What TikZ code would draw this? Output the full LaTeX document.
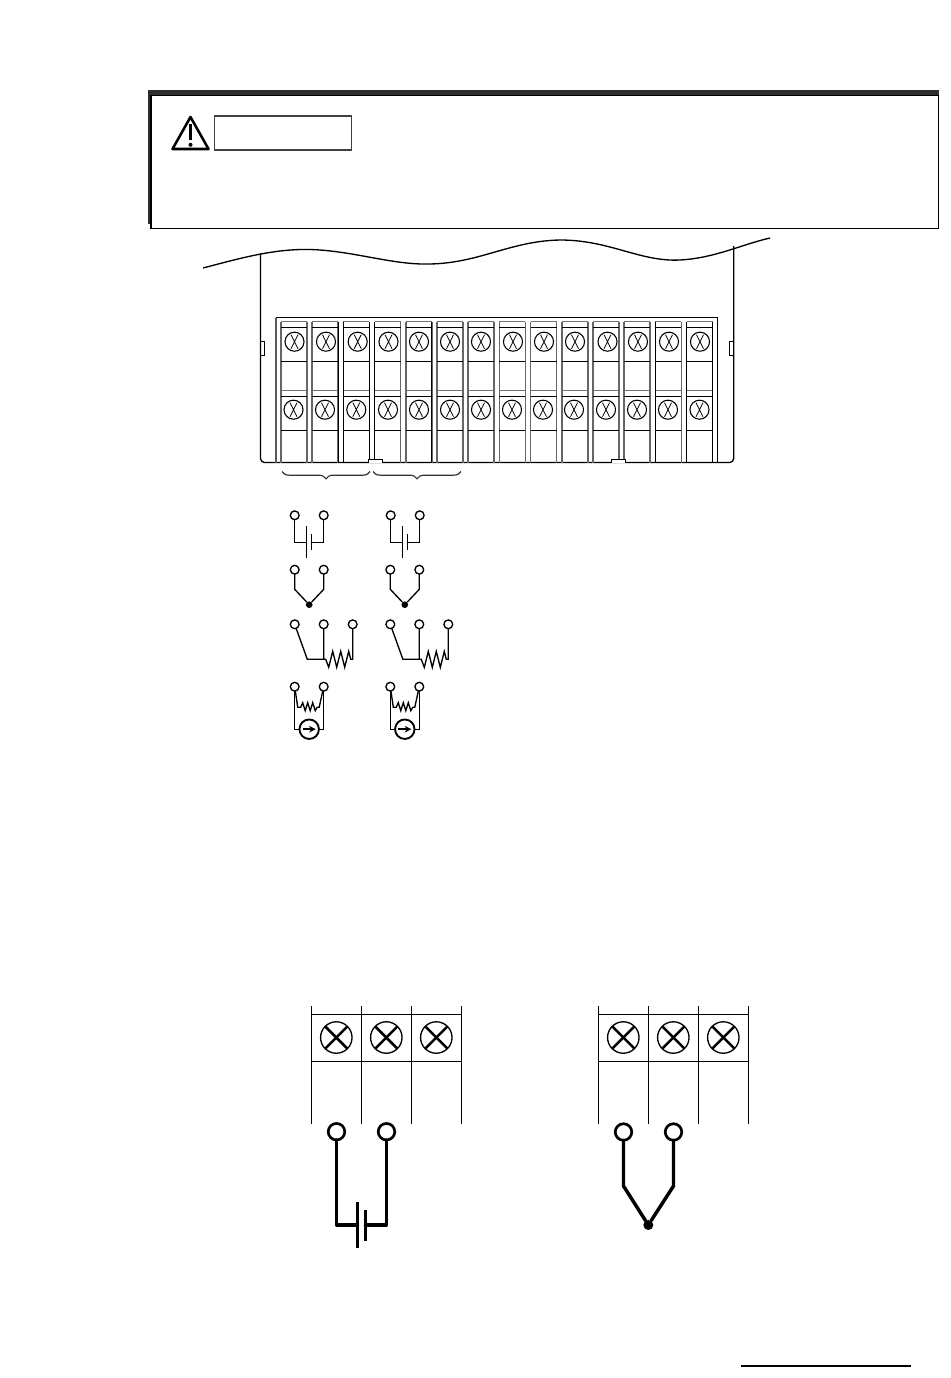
\documentclass[tikz,border=0pt]{standalone}
\usetikzlibrary{arrows.meta,decorations.pathreplacing}
\tikzset{
  x=0.75pt,y=-0.75pt,
  thin line/.style={line width=0.75pt,black},
  mid line/.style={line width=1pt,black},
  heavy line/.style={line width=2.6pt,black,line cap=round,line join=round},
  term/.style={circle,draw=black,fill=white,line width=1pt,minimum size=6.6pt,inner sep=0pt,outer sep=0pt},
  bigterm/.style={circle,draw=black,fill=white,line width=2pt,minimum size=12.4pt,inner sep=0pt,outer sep=0pt},
  screw/.style={circle,draw=black,line width=0.8pt,minimum size=14.3pt,inner sep=0pt,outer sep=0pt},
  bigscrew/.style={circle,draw=black,line width=1pt,minimum size=23.6pt,inner sep=0pt,outer sep=0pt},
  jdot/.style={circle,fill=black,minimum size=5pt,inner sep=0pt},
  bigdot/.style={circle,fill=black,minimum size=7.5pt,inner sep=0pt},
  pics/batt/.style={code={
    \node[term] (a) at (0,0) {}; \node[term] (b) at (29,0) {};
    \coordinate (p) at (11.8,27); \coordinate (q) at (16.8,27);
    \draw[mid line] (a) |- (p); \draw[mid line] (b) |- (q);
    \draw[mid line] (11.8,11) -- (11.8,43); \draw[mid line] (16.8,19) -- (16.8,35);
  }},
  pics/tc/.style={code={
    \node[term] (a) at (0,0) {}; \node[term] (b) at (29,0) {};
    \node[jdot] (j) at (14.5,35) {};
    \draw[mid line] (a) -- (0,19.6) -- (j); \draw[mid line] (b) -- (29,19.6) -- (j);
  }},
  pics/rtd/.style={code={
    \node[term] (a) at (0,0) {}; \node[term] (b) at (29,0) {}; \node[term] (c) at (58,0) {};
    \draw[mid line] (a) -- (12.6,35) -- (29,35);
    \draw[mid line] (b) -- (29,35) -- (31,35) -- (34,43) -- (38,27) -- (42,43) -- (46,27) -- (50,43) -- (54,27) -- (56,35) -- (58,35) -- (c);
  }},
  pics/mv/.style={code={
    \node[term] (a) at (0,0) {}; \node[term] (b) at (29,0) {};
    \node[circle,draw=black,line width=1.4pt,minimum size=14.6pt,inner sep=0pt,outer sep=0pt,fill=white] (g) at (14.5,42.5) {};
    \draw[mid line] (a) -- (0,42.5) -- (g); \draw[mid line] (b) -- (29,42.5) -- (g);
    \draw[mid line] (a) -- (3,20.5) -- (6,20.5) -- (8,16) -- (10.5,24) -- (13,16) -- (15.5,24) -- (18,16) -- (20.5,24) -- (22.5,20.5) -- (24.5,20.5) -- (b);
    \draw[line width=1.3pt,-{Stealth[length=5pt,width=5pt]}] (8,42.5) -- (21,42.5);
  }},
}
\newcommand{\tripleblock}[2]{%
  \foreach \k in {0,1,2,3}{\draw[mid line] ({#1+50*\k},1006) -- ({#1+50*\k},1124);}
  \draw[mid line] (#1,1014.3) -- ({#1+150},1014.3);
  \draw[mid line] (#1,1061.3) -- ({#1+150},1061.3);
  \foreach \k in {0,1,2}{
    \node[bigscrew] (#2\k) at ({#1+25+50*\k},1037.5) {};
    \draw[line width=1.9pt] (#2\k.north west) -- (#2\k.south east);
    \draw[line width=1.9pt] (#2\k.north east) -- (#2\k.south west);
  }%
}
\begin{document}
\begin{tikzpicture}
\useasboundingbox (0,0) rectangle (950,1378);
\fill[white] (0,0) rectangle (950,1378);

% warning box
\fill[black!82] (148,90) rectangle (938.5,96);
\fill[black!82] (148,90) rectangle (151.5,224);
\node[draw=black,line width=1pt,fill=white,minimum width=590.6pt,minimum height=99.6pt,inner sep=0pt,outer sep=0pt,anchor=north west] (warnbox) at (151,95.5) {};
\draw[line width=1.9pt,line join=round,black] (190.5,117) -- (208.5,149) -- (172.5,149) -- cycle;
\draw[line width=2.6pt] (190.5,124) -- (190.5,140);
\fill (190.5,144.8) circle[radius=2];
\node[draw=black!75,line width=0.85pt,minimum width=103pt,minimum height=25.5pt,inner sep=0pt,outer sep=0pt,anchor=north west] (signal) at (214.5,116) {};

% housing
\draw[mid line] (203,268) .. controls (245,257) and (280,247) .. (320,250) .. controls (360,253) and (395,265) .. (430,264) .. controls (480,263) and (510,241) .. (560,240) .. controls (610,240) and (640,262) .. (680,260) .. controls (715,258) and (740,245) .. (770,238);
\draw[mid line] (260.5,253) -- (260.5,458.5) to[out=-90,in=180] (264.5,462.5) -- (729.7,462.5) to[out=0,in=-90] (733.7,458.5) -- (733.7,246);
\draw[thin line] (260.5,341) rectangle (264.5,355);
\draw[thin line] (729.5,341) rectangle (733.7,355);
\draw[line width=1.1pt,black!65] (276,462.5) -- (276,317.5);
\draw[mid line] (276,317.5) -- (717.3,317.5) -- (717.3,462.5);

% terminal columns
\foreach \i in {0,...,13}{
  \pgfmathsetmacro{\xl}{281+31.2*\i}
  \pgfmathsetmacro{\xr}{\xl+26}
  \draw[line width=1.2pt,black!60] (\xl,321.7) -- (\xl,462.5);
  \draw[line width=1.2pt,black!60] (\xr,321.7) -- (\xr,462.5);
  \draw[line width=0.8pt,black!55] (\xl,321.7) -- (\xr,321.7);
  \draw[line width=0.8pt,black!55] (\xl,390.3) -- (\xr,390.3);
  \draw[mid line] (\xl,327.3) -- (\xr,327.3);
  \draw[mid line] (\xl,361.3) -- (\xr,361.3);
  \draw[mid line] (\xl,396.3) -- (\xr,396.3);
  \draw[mid line] (\xl,430.3) -- (\xr,430.3);
}
% darker column edges
\foreach \xx in {338.6,343.4,369.4,374.6,431.8,655.5,686.5,712.7}{
  \draw[mid line] (\xx,321.7) -- (\xx,462.5);
}
\foreach \i/\xx in {0/294.5,1/326,2/357.7,3/388.5,4/419,5/450,6/481,7/513,8/544,9/575,10/607.5,11/638,12/669,13/700}{
  \node[screw] (up\i) at (\xx,341.7) {};
  \draw[line width=0.6pt] (\xx-3.5,334.7) -- (\xx+3.5,348.7) (\xx+3.5,334.7) -- (\xx-3.5,348.7);
}
\foreach \i/\xx in {0/293.5,1/325,2/356.3,3/388,4/419,5/450,6/481,7/512,8/543,9/574,10/606,11/637,12/668,13/699.5}{
  \node[screw] (lo\i) at (\xx,409.7) {};
  \draw[line width=0.6pt] (\xx-3.5,402.7) -- (\xx+3.5,416.7) (\xx+3.5,402.7) -- (\xx-3.5,416.7);
}
\draw[thin line,fill=white] (368.5,462.5) |- (382.5,459) -- (382.5,462.5);
\draw[thin line,fill=white] (611,462.5) |- (625.5,459) -- (625.5,462.5);

% braces
\draw[line width=0.9pt,black!80,decorate,decoration={brace,mirror,amplitude=5.5pt}] (282,471.5) -- (370,471.5);
\draw[line width=0.9pt,black!80,decorate,decoration={brace,mirror,amplitude=5.5pt}] (373,471.5) -- (461,471.5);

% small wiring symbols
\pic at (294.7,515.3) {batt};
\pic at (390.7,515.3) {batt};
\pic at (294.7,569.7) {tc};
\pic at (390.3,569.7) {tc};
\pic at (294.7,624.3) {rtd};
\pic at (390.3,624.3) {rtd};
\pic at (294.7,686.7) {mv};
\pic at (390.3,686.7) {mv};

% enlarged blocks
\tripleblock{311.3}{L}
\tripleblock{598.3}{R}

\node[bigterm] (bat1) at (336.5,1131.7) {};
\node[bigterm] (bat2) at (386.5,1131.7) {};
\coordinate (pl1) at (357.5,1225);
\coordinate (pl2) at (365.5,1225);
\draw[heavy line] (bat1) |- (pl1);
\draw[heavy line] (bat2) |- (pl2);
\draw[line width=2.6pt] (357.5,1202) -- (357.5,1248);
\draw[line width=2.6pt] (365.5,1210) -- (365.5,1240.5);

\node[bigterm] (tc1) at (623.5,1132) {};
\node[bigterm] (tc2) at (673.5,1132) {};
\node[bigdot] (tcj) at (648.3,1225) {};
\draw[heavy line] (tc1) -- (623.5,1186) -- (tcj);
\draw[heavy line] (tc2) -- (673.5,1186) -- (tcj);

% page rule
\draw[line width=1.1pt] (741,1366) -- (911,1366);
\end{tikzpicture}
\end{document}
